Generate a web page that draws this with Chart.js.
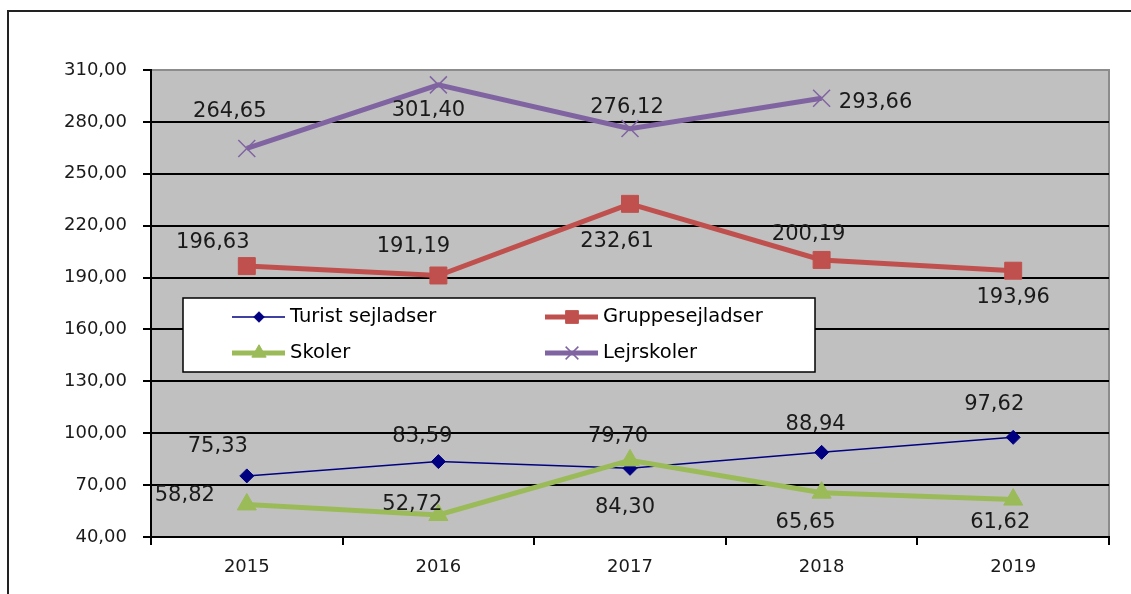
<!DOCTYPE html>
<html>
<head>
<meta charset="utf-8">
<script src="https://cdn.jsdelivr.net/npm/chart.js@4"></script>
<style>
  body { margin: 0; background: #fff; }
  canvas { display: block; }
</style>
</head>
<body>
<canvas id="grafico" width="1131" height="594"></canvas>
<script>
// data
const aar = ['2015', '2016', '2017', '2018', '2019'];
const turist = [75.33, 83.59, 79.70, 88.94, 97.62];
const gruppe = [196.63, 191.19, 232.61, 200.19, 193.96];
const skoler = [58.82, 52.72, 84.30, 65.65, 61.62];
const lejr = [264.65, 301.40, 276.12, 293.66, null];

// placering af tal-etiketter (dx, dy fra punktet)
const offTurist = [[-29, -29], [-16, -25], [-12, -32], [-6, -28], [-19, -33]];
const offGruppe = [[-34, -24], [-25, -29], [-13, 38], [-13, -25], [0, 27]];
const offSkoler = [[-62, -9], [-26, -10], [-5, 47], [-16, 30], [-13, 23]];
const offLejr = [[-17, -37], [-10, 26], [-3, -21], [54, 4], [0, 0]];
const etiketOff = [offTurist, offGruppe, offSkoler, offLejr];

const fmt = v => v.toFixed(2).replace('.', ',');

Chart.defaults.font.family = '"DejaVu Sans", Verdana, sans-serif';

// grå baggrund + ramme
const baggrund = {
    id: 'baggrund',
    beforeDraw(chart) {
        const ctx = chart.ctx;
        const a = chart.chartArea;
        ctx.save();
        ctx.strokeStyle = '#222';
        ctx.lineWidth = 2;
        ctx.strokeRect(8, 11, chart.width + 20, chart.height + 20);
        ctx.fillStyle = '#c0c0c0';
        ctx.fillRect(a.left, a.top, a.right - a.left, a.bottom - a.top);
        ctx.strokeStyle = '#8c8c8c';
        ctx.beginPath();
        ctx.moveTo(a.left, a.top);
        ctx.lineTo(a.right, a.top);
        ctx.lineTo(a.right, a.bottom);
        ctx.stroke();
        ctx.restore();
    }
};

// forklaring inde i plottet
const forklaring = {
    id: 'forklaring',
    afterDatasetsDraw(chart) {
        const ctx = chart.ctx;
        ctx.save();
        ctx.fillStyle = '#fff';
        ctx.fillRect(183, 298, 632, 74);
        ctx.strokeStyle = '#000';
        ctx.lineWidth = 1.5;
        ctx.strokeRect(183, 298, 632, 74);
        const kol = [232, 545];
        const rk = [317, 353];
        chart.data.datasets.forEach((ds, i) => {
            const x = kol[i % 2];
            const y = rk[Math.floor(i / 2)];
            ctx.strokeStyle = ds.borderColor;
            ctx.lineWidth = ds.borderWidth;
            ctx.beginPath();
            ctx.moveTo(x, y);
            ctx.lineTo(x + 53, y);
            ctx.stroke();
            ctx.fillStyle = ds.pointBackgroundColor;
            ctx.strokeStyle = ds.pointBorderColor;
            ctx.lineWidth = ds.pointBorderWidth;
            Chart.helpers.drawPoint(ctx, {
                pointStyle: ds.pointStyle,
                radius: ds.pointRadius * 0.75,
                rotation: 0,
                borderWidth: ds.pointBorderWidth
            }, x + 27, y);
            ctx.fillStyle = '#000';
            ctx.font = '19.5px "DejaVu Sans"';
            ctx.textAlign = 'left';
            ctx.textBaseline = 'middle';
            ctx.fillText(ds.label, x + 58, y);
        });
        ctx.restore();
    }
};

// tal ved punkterne
const talEtiketter = {
    id: 'talEtiketter',
    afterDatasetsDraw(chart) {
        const ctx = chart.ctx;
        ctx.save();
        ctx.font = '21px "DejaVu Sans"';
        ctx.fillStyle = '#1a1a1a';
        ctx.textAlign = 'center';
        ctx.textBaseline = 'middle';
        chart.data.datasets.forEach((ds, i) => {
            const meta = chart.getDatasetMeta(i);
            meta.data.forEach((pt, j) => {
                const v = ds.data[j];
                if (v == null) return;
                const o = etiketOff[i][j];
                ctx.fillText(fmt(v), pt.x + o[0], pt.y + o[1]);
            });
        });
        ctx.restore();
    }
};

new Chart(document.getElementById('grafico'), {
    type: 'line',
    data: {
        labels: aar,
        datasets: [{
            label: 'Turist sejladser',
            data: turist,
            borderColor: '#000080',
            borderWidth: 1.5,
            pointStyle: 'rectRot',
            pointRadius: 7,
            pointBackgroundColor: '#000080',
            pointBorderColor: '#000080',
            pointBorderWidth: 1,
            order: 3
        }, {
            label: 'Gruppesejladser',
            data: gruppe,
            borderColor: '#c0504d',
            borderWidth: 5,
            pointStyle: 'rect',
            pointRadius: 12,
            pointBackgroundColor: '#c0504d',
            pointBorderColor: '#c0504d',
            pointBorderWidth: 1,
            order: 2
        }, {
            label: 'Skoler',
            data: skoler,
            borderColor: '#9bbb59',
            borderWidth: 5,
            pointStyle: 'triangle',
            pointRadius: 11,
            pointBackgroundColor: '#9bbb59',
            pointBorderColor: '#9bbb59',
            pointBorderWidth: 1,
            order: 1
        }, {
            label: 'Lejrskoler',
            data: lejr,
            borderColor: '#8064a2',
            borderWidth: 5,
            pointStyle: 'crossRot',
            pointRadius: 12,
            pointBackgroundColor: '#8064a2',
            pointBorderColor: '#8064a2',
            pointBorderWidth: 1.5,
            order: 0
        }]
    },
    options: {
        responsive: false,
        animation: false,
        layout: { padding: { top: 70, right: 22, left: 0, bottom: 0 } },
        plugins: {
            legend: { display: false },
            tooltip: { enabled: false }
        },
        scales: {
            x: {
                offset: true,
                grid: {
                    offset: true,
                    drawOnChartArea: false,
                    tickLength: 8,
                    color: '#000',
                    lineWidth: 2
                },
                border: { color: '#000', width: 2 },
                ticks: { color: '#1a1a1a', font: { size: 18 }, padding: 12 },
                afterFit(s) { s.height = 57; }
            },
            y: {
                min: 40,
                max: 310,
                grid: {
                    color: c => (c.tick && c.tick.value === c.scale.max) ? '#8c8c8c' : '#000',
                    tickColor: '#000',
                    lineWidth: 2,
                    tickLength: 8
                },
                border: { color: '#000', width: 2 },
                ticks: {
                    stepSize: 30,
                    color: '#1a1a1a',
                    font: { size: 18 },
                    padding: 16,
                    callback: v => fmt(v)
                },
                afterFit(s) { s.width = 151; }
            }
        }
    },
    plugins: [baggrund, forklaring, talEtiketter]
});
</script>
</body>
</html>
